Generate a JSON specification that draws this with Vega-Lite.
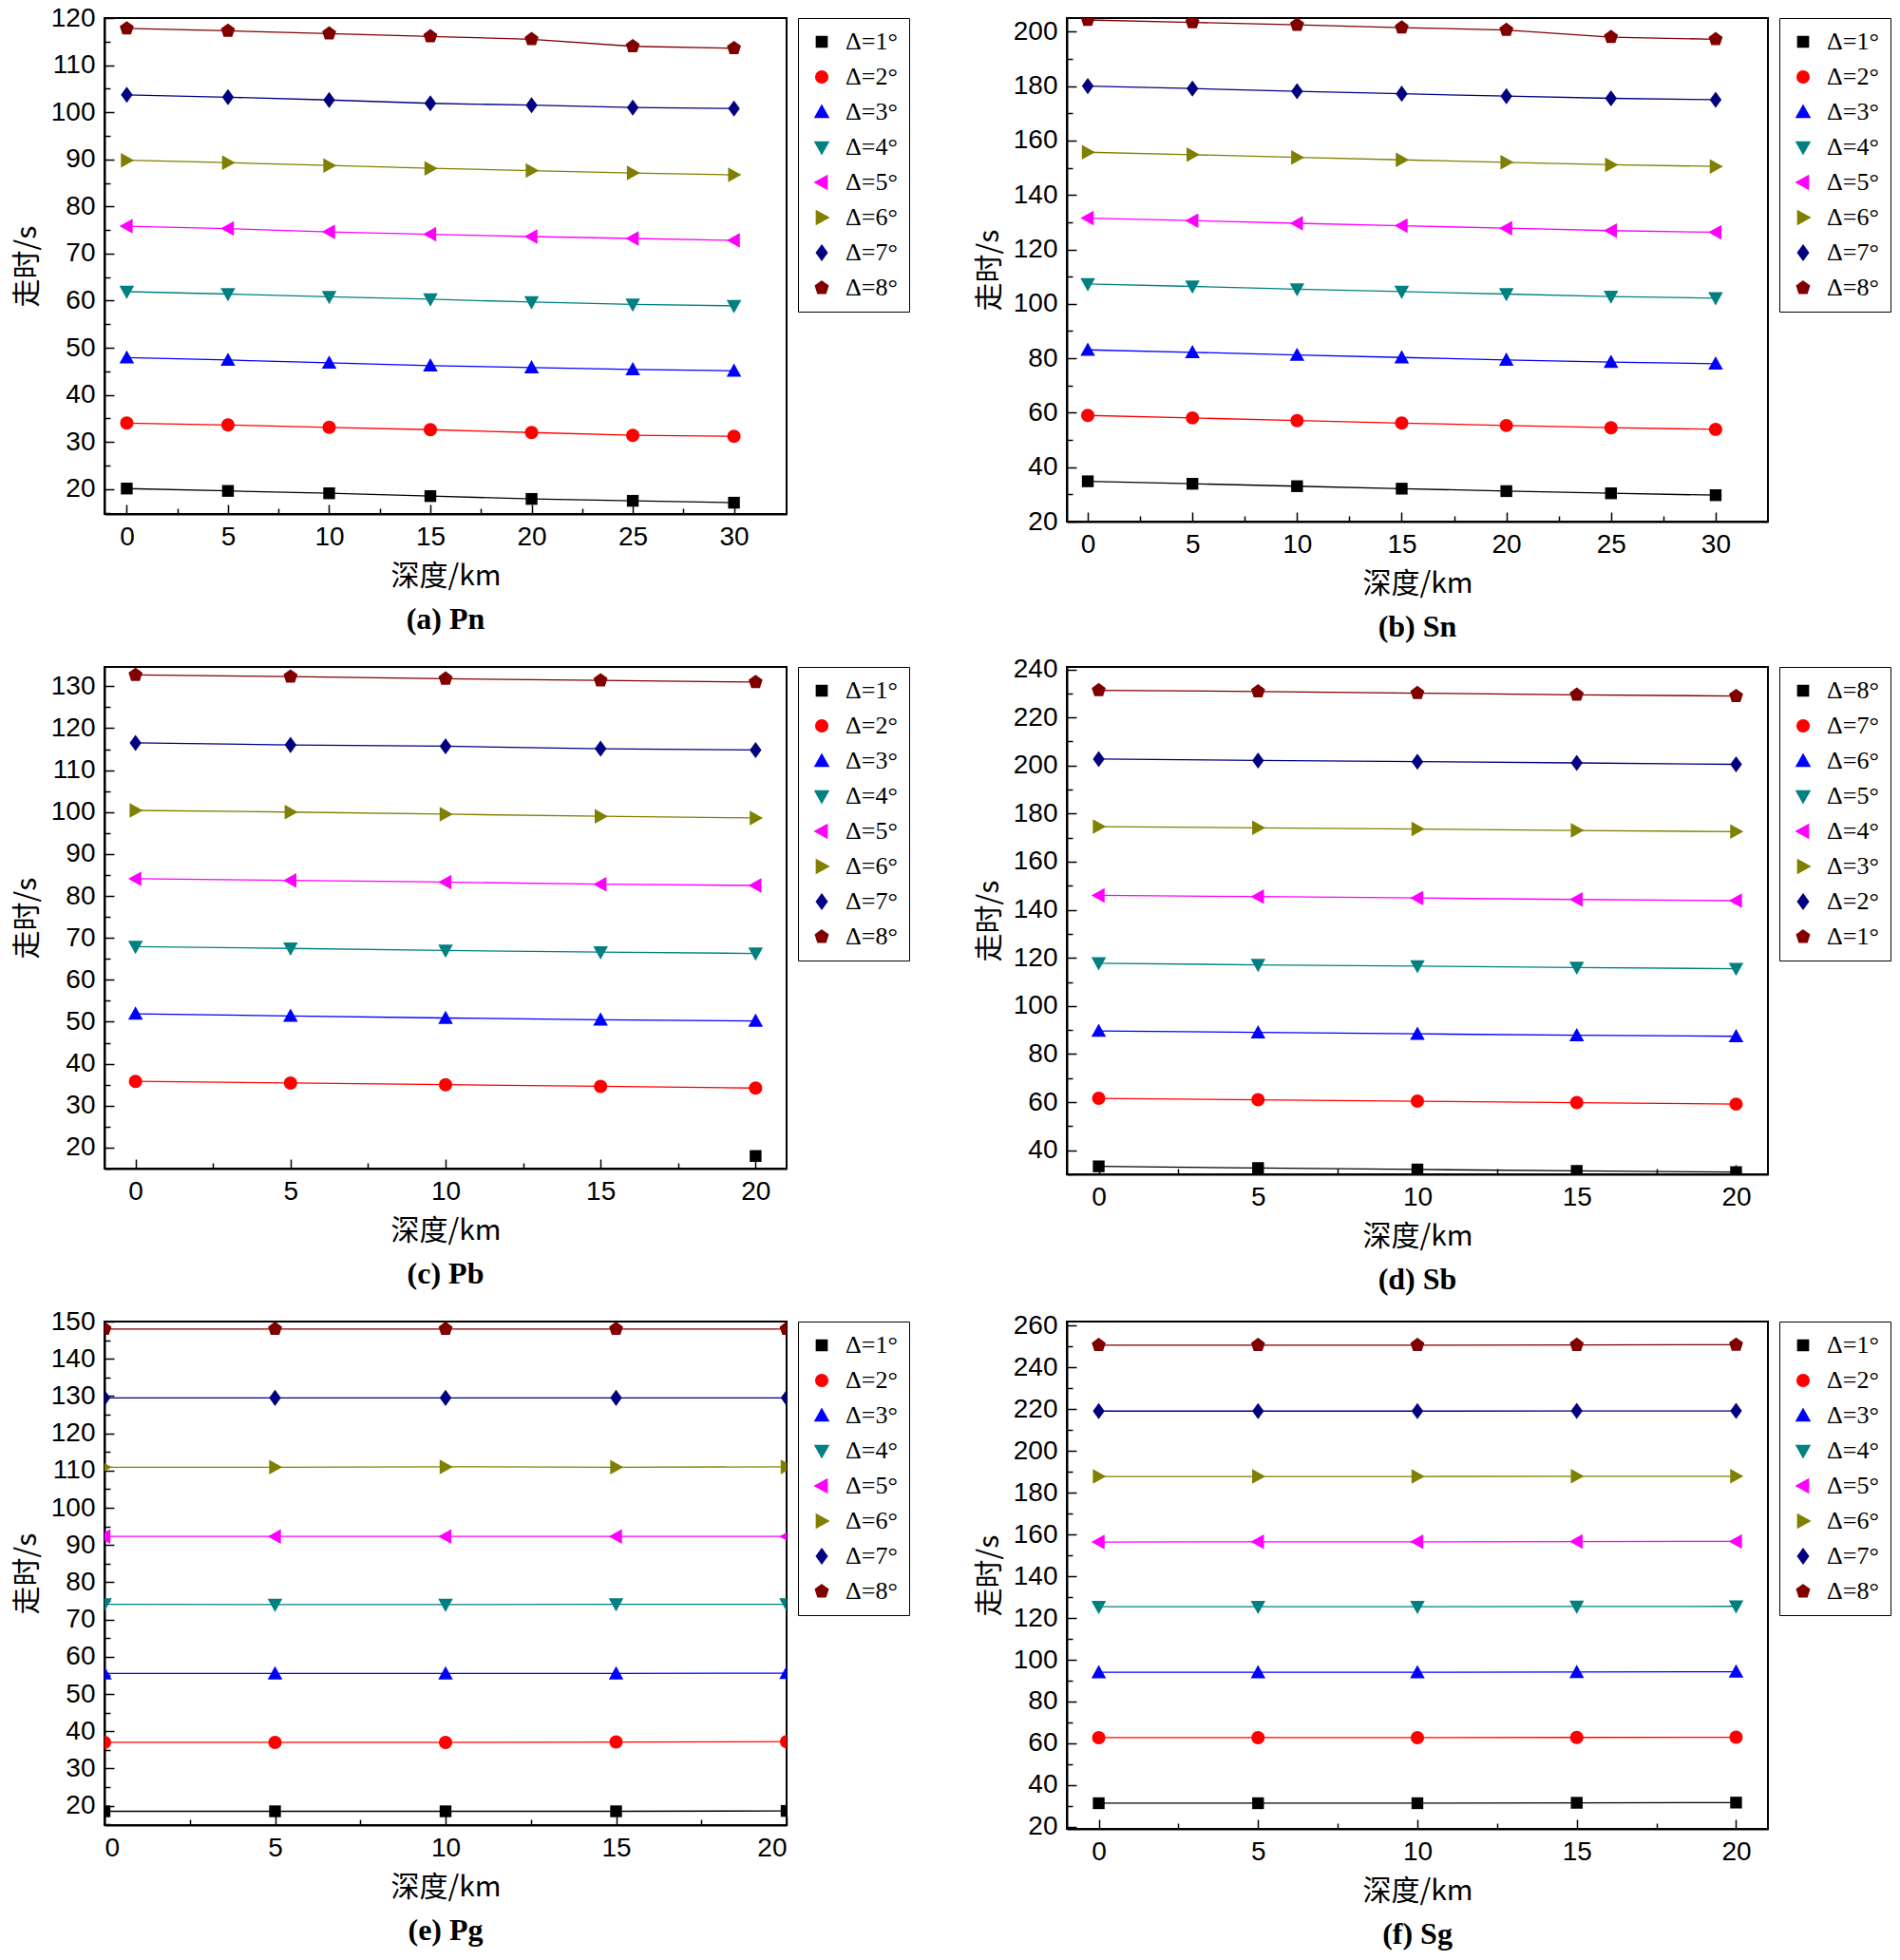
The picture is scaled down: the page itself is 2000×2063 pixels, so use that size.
{
  "$schema": "https://vega.github.io/schema/vega-lite/v6.json",
  "background": "white",
  "padding": {"left": 12, "top": 4, "right": 4, "bottom": 0},
  "columns": 2,
  "concat": [
    {
      "title": "(a) Pn",
      "width": 718, "height": 522,
      "data": {"values": [
        {"x": 0, "t": 20.1, "s": "Δ=1°"}, {"x": 5, "t": 19.6, "s": "Δ=1°"}, {"x": 10, "t": 19.1, "s": "Δ=1°"}, {"x": 15, "t": 18.5, "s": "Δ=1°"}, {"x": 20, "t": 17.9, "s": "Δ=1°"}, {"x": 25, "t": 17.5, "s": "Δ=1°"}, {"x": 30, "t": 17.1, "s": "Δ=1°"},
        {"x": 0, "t": 34.0, "s": "Δ=2°"}, {"x": 5, "t": 33.6, "s": "Δ=2°"}, {"x": 10, "t": 33.1, "s": "Δ=2°"}, {"x": 15, "t": 32.6, "s": "Δ=2°"}, {"x": 20, "t": 32.0, "s": "Δ=2°"}, {"x": 25, "t": 31.4, "s": "Δ=2°"}, {"x": 30, "t": 31.2, "s": "Δ=2°"},
        {"x": 0, "t": 47.9, "s": "Δ=3°"}, {"x": 5, "t": 47.4, "s": "Δ=3°"}, {"x": 10, "t": 46.8, "s": "Δ=3°"}, {"x": 15, "t": 46.2, "s": "Δ=3°"}, {"x": 20, "t": 45.8, "s": "Δ=3°"}, {"x": 25, "t": 45.4, "s": "Δ=3°"}, {"x": 30, "t": 45.1, "s": "Δ=3°"},
        {"x": 0, "t": 61.9, "s": "Δ=4°"}, {"x": 5, "t": 61.4, "s": "Δ=4°"}, {"x": 10, "t": 60.8, "s": "Δ=4°"}, {"x": 15, "t": 60.3, "s": "Δ=4°"}, {"x": 20, "t": 59.7, "s": "Δ=4°"}, {"x": 25, "t": 59.2, "s": "Δ=4°"}, {"x": 30, "t": 58.9, "s": "Δ=4°"},
        {"x": 0, "t": 75.8, "s": "Δ=5°"}, {"x": 5, "t": 75.3, "s": "Δ=5°"}, {"x": 10, "t": 74.6, "s": "Δ=5°"}, {"x": 15, "t": 74.1, "s": "Δ=5°"}, {"x": 20, "t": 73.6, "s": "Δ=5°"}, {"x": 25, "t": 73.2, "s": "Δ=5°"}, {"x": 30, "t": 72.8, "s": "Δ=5°"},
        {"x": 0, "t": 89.8, "s": "Δ=6°"}, {"x": 5, "t": 89.3, "s": "Δ=6°"}, {"x": 10, "t": 88.7, "s": "Δ=6°"}, {"x": 15, "t": 88.1, "s": "Δ=6°"}, {"x": 20, "t": 87.6, "s": "Δ=6°"}, {"x": 25, "t": 87.1, "s": "Δ=6°"}, {"x": 30, "t": 86.7, "s": "Δ=6°"},
        {"x": 0, "t": 103.7, "s": "Δ=7°"}, {"x": 5, "t": 103.2, "s": "Δ=7°"}, {"x": 10, "t": 102.6, "s": "Δ=7°"}, {"x": 15, "t": 101.9, "s": "Δ=7°"}, {"x": 20, "t": 101.5, "s": "Δ=7°"}, {"x": 25, "t": 101.0, "s": "Δ=7°"}, {"x": 30, "t": 100.8, "s": "Δ=7°"},
        {"x": 0, "t": 117.8, "s": "Δ=8°"}, {"x": 5, "t": 117.3, "s": "Δ=8°"}, {"x": 10, "t": 116.7, "s": "Δ=8°"}, {"x": 15, "t": 116.1, "s": "Δ=8°"}, {"x": 20, "t": 115.5, "s": "Δ=8°"}, {"x": 25, "t": 114.0, "s": "Δ=8°"}, {"x": 30, "t": 113.6, "s": "Δ=8°"}
      ]},
      "encoding": {
        "x": {"field": "x", "type": "quantitative", "title": "深度/km",
          "scale": {"domain": [-1.1, 32.6], "nice": false},
          "axis": {"values": [0, 2.5, 5, 7.5, 10, 12.5, 15, 17.5, 20, 22.5, 25, 27.5, 30],
            "labelExpr": "datum.value % 5 == 0 ? datum.label : ''",
            "tickSize": {"condition": {"test": "datum.value % 5 == 0", "value": -10}, "value": -6}}},
        "y": {"field": "t", "type": "quantitative", "title": "走时/s",
          "scale": {"domain": [14.7, 120], "nice": false, "zero": false},
          "axis": {"values": [15, 20, 25, 30, 35, 40, 45, 50, 55, 60, 65, 70, 75, 80, 85, 90, 95, 100, 105, 110, 115, 120],
            "labelExpr": "datum.value % 10 == 0 ? datum.label : ''",
            "tickSize": {"condition": {"test": "datum.value % 10 == 0", "value": -10}, "value": -6}}},
        "color": {"field": "s", "type": "nominal",
          "scale": {"domain": ["Δ=1°", "Δ=2°", "Δ=3°", "Δ=4°", "Δ=5°", "Δ=6°", "Δ=7°", "Δ=8°"], "range": ["#000000", "#FF0000", "#0000FF", "#008080", "#FF00FF", "#808000", "#000080", "#800000"]}}
      },
      "layer": [
        {"mark": {"type": "line", "strokeWidth": 1.3, "clip": true}},
        {"mark": {"type": "point", "filled": true, "opacity": 1, "size": 240, "clip": true},
          "encoding": {"shape": {"field": "s", "type": "nominal",
            "scale": {"domain": ["Δ=1°", "Δ=2°", "Δ=3°", "Δ=4°", "Δ=5°", "Δ=6°", "Δ=7°", "Δ=8°"], "range": ["M-0.8,-0.8H0.8V0.8H-0.8Z", "M-0.9,0A0.9,0.9,0,1,1,0.9,0A0.9,0.9,0,1,1,-0.9,0Z", "M0,-1L1,0.8L-1,0.8Z", "M0,1L1,-0.8L-1,-0.8Z", "M-1,0L0.8,-1L0.8,1Z", "M1,0L-0.8,-1L-0.8,1Z", "M0,-1.1L0.8,0L0,1.1L-0.8,0Z", "M0,-1L0.951,-0.309L0.588,0.809L-0.588,0.809L-0.951,-0.309Z"]}}}}
      ]
    },
    {
      "title": "(b) Sn",
      "width": 738, "height": 530,
      "data": {"values": [
        {"x": 0, "t": 34.8, "s": "Δ=1°"}, {"x": 5, "t": 33.9, "s": "Δ=1°"}, {"x": 10, "t": 33.0, "s": "Δ=1°"}, {"x": 15, "t": 32.1, "s": "Δ=1°"}, {"x": 20, "t": 31.2, "s": "Δ=1°"}, {"x": 25, "t": 30.4, "s": "Δ=1°"}, {"x": 30, "t": 29.7, "s": "Δ=1°"},
        {"x": 0, "t": 59.0, "s": "Δ=2°"}, {"x": 5, "t": 58.1, "s": "Δ=2°"}, {"x": 10, "t": 57.1, "s": "Δ=2°"}, {"x": 15, "t": 56.2, "s": "Δ=2°"}, {"x": 20, "t": 55.3, "s": "Δ=2°"}, {"x": 25, "t": 54.5, "s": "Δ=2°"}, {"x": 30, "t": 53.9, "s": "Δ=2°"},
        {"x": 0, "t": 83.1, "s": "Δ=3°"}, {"x": 5, "t": 82.2, "s": "Δ=3°"}, {"x": 10, "t": 81.2, "s": "Δ=3°"}, {"x": 15, "t": 80.3, "s": "Δ=3°"}, {"x": 20, "t": 79.4, "s": "Δ=3°"}, {"x": 25, "t": 78.6, "s": "Δ=3°"}, {"x": 30, "t": 78.0, "s": "Δ=3°"},
        {"x": 0, "t": 107.3, "s": "Δ=4°"}, {"x": 5, "t": 106.4, "s": "Δ=4°"}, {"x": 10, "t": 105.4, "s": "Δ=4°"}, {"x": 15, "t": 104.5, "s": "Δ=4°"}, {"x": 20, "t": 103.6, "s": "Δ=4°"}, {"x": 25, "t": 102.7, "s": "Δ=4°"}, {"x": 30, "t": 102.1, "s": "Δ=4°"},
        {"x": 0, "t": 131.5, "s": "Δ=5°"}, {"x": 5, "t": 130.6, "s": "Δ=5°"}, {"x": 10, "t": 129.6, "s": "Δ=5°"}, {"x": 15, "t": 128.7, "s": "Δ=5°"}, {"x": 20, "t": 127.8, "s": "Δ=5°"}, {"x": 25, "t": 126.9, "s": "Δ=5°"}, {"x": 30, "t": 126.3, "s": "Δ=5°"},
        {"x": 0, "t": 155.7, "s": "Δ=6°"}, {"x": 5, "t": 154.8, "s": "Δ=6°"}, {"x": 10, "t": 153.8, "s": "Δ=6°"}, {"x": 15, "t": 152.9, "s": "Δ=6°"}, {"x": 20, "t": 152.0, "s": "Δ=6°"}, {"x": 25, "t": 151.1, "s": "Δ=6°"}, {"x": 30, "t": 150.5, "s": "Δ=6°"},
        {"x": 0, "t": 180.0, "s": "Δ=7°"}, {"x": 5, "t": 179.1, "s": "Δ=7°"}, {"x": 10, "t": 178.1, "s": "Δ=7°"}, {"x": 15, "t": 177.2, "s": "Δ=7°"}, {"x": 20, "t": 176.3, "s": "Δ=7°"}, {"x": 25, "t": 175.5, "s": "Δ=7°"}, {"x": 30, "t": 175.0, "s": "Δ=7°"},
        {"x": 0, "t": 204.3, "s": "Δ=8°"}, {"x": 5, "t": 203.4, "s": "Δ=8°"}, {"x": 10, "t": 202.5, "s": "Δ=8°"}, {"x": 15, "t": 201.5, "s": "Δ=8°"}, {"x": 20, "t": 200.6, "s": "Δ=8°"}, {"x": 25, "t": 198.0, "s": "Δ=8°"}, {"x": 30, "t": 197.2, "s": "Δ=8°"}
      ]},
      "encoding": {
        "x": {"field": "x", "type": "quantitative", "title": "深度/km",
          "scale": {"domain": [-1, 32.5], "nice": false},
          "axis": {"values": [0, 2.5, 5, 7.5, 10, 12.5, 15, 17.5, 20, 22.5, 25, 27.5, 30],
            "labelExpr": "datum.value % 5 == 0 ? datum.label : ''",
            "tickSize": {"condition": {"test": "datum.value % 5 == 0", "value": -10}, "value": -6}}},
        "y": {"field": "t", "type": "quantitative", "title": "走时/s",
          "scale": {"domain": [20, 205], "nice": false, "zero": false},
          "axis": {"values": [20, 30, 40, 50, 60, 70, 80, 90, 100, 110, 120, 130, 140, 150, 160, 170, 180, 190, 200],
            "labelExpr": "datum.value % 20 == 0 ? datum.label : ''",
            "tickSize": {"condition": {"test": "datum.value % 20 == 0", "value": -10}, "value": -6}}},
        "color": {"field": "s", "type": "nominal",
          "scale": {"domain": ["Δ=1°", "Δ=2°", "Δ=3°", "Δ=4°", "Δ=5°", "Δ=6°", "Δ=7°", "Δ=8°"], "range": ["#000000", "#FF0000", "#0000FF", "#008080", "#FF00FF", "#808000", "#000080", "#800000"]}}
      },
      "layer": [
        {"mark": {"type": "line", "strokeWidth": 1.3, "clip": true}},
        {"mark": {"type": "point", "filled": true, "opacity": 1, "size": 240, "clip": true},
          "encoding": {"shape": {"field": "s", "type": "nominal",
            "scale": {"domain": ["Δ=1°", "Δ=2°", "Δ=3°", "Δ=4°", "Δ=5°", "Δ=6°", "Δ=7°", "Δ=8°"], "range": ["M-0.8,-0.8H0.8V0.8H-0.8Z", "M-0.9,0A0.9,0.9,0,1,1,0.9,0A0.9,0.9,0,1,1,-0.9,0Z", "M0,-1L1,0.8L-1,0.8Z", "M0,1L1,-0.8L-1,-0.8Z", "M-1,0L0.8,-1L0.8,1Z", "M1,0L-0.8,-1L-0.8,1Z", "M0,-1.1L0.8,0L0,1.1L-0.8,0Z", "M0,-1L0.951,-0.309L0.588,0.809L-0.588,0.809L-0.951,-0.309Z"]}}}}
      ]
    },
    {
      "title": "(c) Pb",
      "width": 718, "height": 528,
      "data": {"values": [
        {"x": 20, "t": 18.0, "s": "Δ=1°"},
        {"x": 0, "t": 35.8, "s": "Δ=2°"}, {"x": 5, "t": 35.4, "s": "Δ=2°"}, {"x": 10, "t": 35.0, "s": "Δ=2°"}, {"x": 15, "t": 34.6, "s": "Δ=2°"}, {"x": 20, "t": 34.2, "s": "Δ=2°"},
        {"x": 0, "t": 51.9, "s": "Δ=3°"}, {"x": 5, "t": 51.4, "s": "Δ=3°"}, {"x": 10, "t": 50.9, "s": "Δ=3°"}, {"x": 15, "t": 50.5, "s": "Δ=3°"}, {"x": 20, "t": 50.2, "s": "Δ=3°"},
        {"x": 0, "t": 67.9, "s": "Δ=4°"}, {"x": 5, "t": 67.5, "s": "Δ=4°"}, {"x": 10, "t": 67.0, "s": "Δ=4°"}, {"x": 15, "t": 66.6, "s": "Δ=4°"}, {"x": 20, "t": 66.3, "s": "Δ=4°"},
        {"x": 0, "t": 84.1, "s": "Δ=5°"}, {"x": 5, "t": 83.7, "s": "Δ=5°"}, {"x": 10, "t": 83.3, "s": "Δ=5°"}, {"x": 15, "t": 82.8, "s": "Δ=5°"}, {"x": 20, "t": 82.5, "s": "Δ=5°"},
        {"x": 0, "t": 100.4, "s": "Δ=6°"}, {"x": 5, "t": 100.0, "s": "Δ=6°"}, {"x": 10, "t": 99.5, "s": "Δ=6°"}, {"x": 15, "t": 99.0, "s": "Δ=6°"}, {"x": 20, "t": 98.6, "s": "Δ=6°"},
        {"x": 0, "t": 116.5, "s": "Δ=7°"}, {"x": 5, "t": 116.0, "s": "Δ=7°"}, {"x": 10, "t": 115.7, "s": "Δ=7°"}, {"x": 15, "t": 115.1, "s": "Δ=7°"}, {"x": 20, "t": 114.8, "s": "Δ=7°"},
        {"x": 0, "t": 132.7, "s": "Δ=8°"}, {"x": 5, "t": 132.3, "s": "Δ=8°"}, {"x": 10, "t": 131.8, "s": "Δ=8°"}, {"x": 15, "t": 131.4, "s": "Δ=8°"}, {"x": 20, "t": 131.0, "s": "Δ=8°"}
      ]},
      "encoding": {
        "x": {"field": "x", "type": "quantitative", "title": "深度/km",
          "scale": {"domain": [-1, 21], "nice": false},
          "axis": {"values": [0, 2.5, 5, 7.5, 10, 12.5, 15, 17.5, 20],
            "labelExpr": "datum.value % 5 == 0 ? datum.label : ''",
            "tickSize": {"condition": {"test": "datum.value % 5 == 0", "value": -10}, "value": -6}}},
        "y": {"field": "t", "type": "quantitative", "title": "走时/s",
          "scale": {"domain": [15, 134.6], "nice": false, "zero": false},
          "axis": {"values": [15, 20, 25, 30, 35, 40, 45, 50, 55, 60, 65, 70, 75, 80, 85, 90, 95, 100, 105, 110, 115, 120, 125, 130],
            "labelExpr": "datum.value % 10 == 0 ? datum.label : ''",
            "tickSize": {"condition": {"test": "datum.value % 10 == 0", "value": -10}, "value": -6}}},
        "color": {"field": "s", "type": "nominal",
          "scale": {"domain": ["Δ=1°", "Δ=2°", "Δ=3°", "Δ=4°", "Δ=5°", "Δ=6°", "Δ=7°", "Δ=8°"], "range": ["#000000", "#FF0000", "#0000FF", "#008080", "#FF00FF", "#808000", "#000080", "#800000"]}}
      },
      "layer": [
        {"mark": {"type": "line", "strokeWidth": 1.3, "clip": true}},
        {"mark": {"type": "point", "filled": true, "opacity": 1, "size": 240, "clip": true},
          "encoding": {"shape": {"field": "s", "type": "nominal",
            "scale": {"domain": ["Δ=1°", "Δ=2°", "Δ=3°", "Δ=4°", "Δ=5°", "Δ=6°", "Δ=7°", "Δ=8°"], "range": ["M-0.8,-0.8H0.8V0.8H-0.8Z", "M-0.9,0A0.9,0.9,0,1,1,0.9,0A0.9,0.9,0,1,1,-0.9,0Z", "M0,-1L1,0.8L-1,0.8Z", "M0,1L1,-0.8L-1,-0.8Z", "M-1,0L0.8,-1L0.8,1Z", "M1,0L-0.8,-1L-0.8,1Z", "M0,-1.1L0.8,0L0,1.1L-0.8,0Z", "M0,-1L0.951,-0.309L0.588,0.809L-0.588,0.809L-0.951,-0.309Z"]}}}}
      ]
    },
    {
      "title": "(d) Sb",
      "width": 738, "height": 534,
      "data": {"values": [
        {"x": 0, "t": 33.3, "s": "Δ=8°"}, {"x": 5, "t": 32.6, "s": "Δ=8°"}, {"x": 10, "t": 32.0, "s": "Δ=8°"}, {"x": 15, "t": 31.4, "s": "Δ=8°"}, {"x": 20, "t": 30.9, "s": "Δ=8°"},
        {"x": 0, "t": 61.6, "s": "Δ=7°"}, {"x": 5, "t": 61.0, "s": "Δ=7°"}, {"x": 10, "t": 60.4, "s": "Δ=7°"}, {"x": 15, "t": 59.8, "s": "Δ=7°"}, {"x": 20, "t": 59.2, "s": "Δ=7°"},
        {"x": 0, "t": 89.6, "s": "Δ=6°"}, {"x": 5, "t": 89.0, "s": "Δ=6°"}, {"x": 10, "t": 88.4, "s": "Δ=6°"}, {"x": 15, "t": 87.8, "s": "Δ=6°"}, {"x": 20, "t": 87.4, "s": "Δ=6°"},
        {"x": 0, "t": 117.8, "s": "Δ=5°"}, {"x": 5, "t": 117.1, "s": "Δ=5°"}, {"x": 10, "t": 116.6, "s": "Δ=5°"}, {"x": 15, "t": 116.0, "s": "Δ=5°"}, {"x": 20, "t": 115.5, "s": "Δ=5°"},
        {"x": 0, "t": 146.0, "s": "Δ=4°"}, {"x": 5, "t": 145.5, "s": "Δ=4°"}, {"x": 10, "t": 144.9, "s": "Δ=4°"}, {"x": 15, "t": 144.3, "s": "Δ=4°"}, {"x": 20, "t": 143.8, "s": "Δ=4°"},
        {"x": 0, "t": 174.6, "s": "Δ=3°"}, {"x": 5, "t": 174.1, "s": "Δ=3°"}, {"x": 10, "t": 173.6, "s": "Δ=3°"}, {"x": 15, "t": 173.0, "s": "Δ=3°"}, {"x": 20, "t": 172.5, "s": "Δ=3°"},
        {"x": 0, "t": 202.7, "s": "Δ=2°"}, {"x": 5, "t": 202.1, "s": "Δ=2°"}, {"x": 10, "t": 201.6, "s": "Δ=2°"}, {"x": 15, "t": 201.1, "s": "Δ=2°"}, {"x": 20, "t": 200.5, "s": "Δ=2°"},
        {"x": 0, "t": 231.3, "s": "Δ=1°"}, {"x": 5, "t": 230.8, "s": "Δ=1°"}, {"x": 10, "t": 230.1, "s": "Δ=1°"}, {"x": 15, "t": 229.4, "s": "Δ=1°"}, {"x": 20, "t": 228.9, "s": "Δ=1°"}
      ]},
      "encoding": {
        "x": {"field": "x", "type": "quantitative", "title": "深度/km",
          "scale": {"domain": [-1, 21], "nice": false},
          "axis": {"values": [0, 2.5, 5, 7.5, 10, 12.5, 15, 17.5, 20],
            "labelExpr": "datum.value % 5 == 0 ? datum.label : ''",
            "tickSize": {"condition": {"test": "datum.value % 5 == 0", "value": -10}, "value": -6}}},
        "y": {"field": "t", "type": "quantitative", "title": "走时/s",
          "scale": {"domain": [30, 241], "nice": false, "zero": false},
          "axis": {"values": [30, 40, 50, 60, 70, 80, 90, 100, 110, 120, 130, 140, 150, 160, 170, 180, 190, 200, 210, 220, 230, 240],
            "labelExpr": "datum.value % 20 == 0 ? datum.label : ''",
            "tickSize": {"condition": {"test": "datum.value % 20 == 0", "value": -10}, "value": -6}}},
        "color": {"field": "s", "type": "nominal",
          "scale": {"domain": ["Δ=8°", "Δ=7°", "Δ=6°", "Δ=5°", "Δ=4°", "Δ=3°", "Δ=2°", "Δ=1°"], "range": ["#000000", "#FF0000", "#0000FF", "#008080", "#FF00FF", "#808000", "#000080", "#800000"]}}
      },
      "layer": [
        {"mark": {"type": "line", "strokeWidth": 1.3, "clip": true}},
        {"mark": {"type": "point", "filled": true, "opacity": 1, "size": 240, "clip": true},
          "encoding": {"shape": {"field": "s", "type": "nominal",
            "scale": {"domain": ["Δ=8°", "Δ=7°", "Δ=6°", "Δ=5°", "Δ=4°", "Δ=3°", "Δ=2°", "Δ=1°"], "range": ["M-0.8,-0.8H0.8V0.8H-0.8Z", "M-0.9,0A0.9,0.9,0,1,1,0.9,0A0.9,0.9,0,1,1,-0.9,0Z", "M0,-1L1,0.8L-1,0.8Z", "M0,1L1,-0.8L-1,-0.8Z", "M-1,0L0.8,-1L0.8,1Z", "M1,0L-0.8,-1L-0.8,1Z", "M0,-1.1L0.8,0L0,1.1L-0.8,0Z", "M0,-1L0.951,-0.309L0.588,0.809L-0.588,0.809L-0.951,-0.309Z"]}}}}
      ]
    },
    {
      "title": "(e) Pg",
      "width": 718, "height": 530,
      "data": {"values": [
        {"x": 0, "t": 18.5, "s": "Δ=1°"}, {"x": 5, "t": 18.5, "s": "Δ=1°"}, {"x": 10, "t": 18.5, "s": "Δ=1°"}, {"x": 15, "t": 18.5, "s": "Δ=1°"}, {"x": 20, "t": 18.6, "s": "Δ=1°"},
        {"x": 0, "t": 37.0, "s": "Δ=2°"}, {"x": 5, "t": 37.0, "s": "Δ=2°"}, {"x": 10, "t": 37.0, "s": "Δ=2°"}, {"x": 15, "t": 37.1, "s": "Δ=2°"}, {"x": 20, "t": 37.2, "s": "Δ=2°"},
        {"x": 0, "t": 55.5, "s": "Δ=3°"}, {"x": 5, "t": 55.5, "s": "Δ=3°"}, {"x": 10, "t": 55.5, "s": "Δ=3°"}, {"x": 15, "t": 55.5, "s": "Δ=3°"}, {"x": 20, "t": 55.6, "s": "Δ=3°"},
        {"x": 0, "t": 74.1, "s": "Δ=4°"}, {"x": 5, "t": 74.0, "s": "Δ=4°"}, {"x": 10, "t": 74.0, "s": "Δ=4°"}, {"x": 15, "t": 74.1, "s": "Δ=4°"}, {"x": 20, "t": 74.1, "s": "Δ=4°"},
        {"x": 0, "t": 92.3, "s": "Δ=5°"}, {"x": 5, "t": 92.3, "s": "Δ=5°"}, {"x": 10, "t": 92.3, "s": "Δ=5°"}, {"x": 15, "t": 92.3, "s": "Δ=5°"}, {"x": 20, "t": 92.3, "s": "Δ=5°"},
        {"x": 0, "t": 110.9, "s": "Δ=6°"}, {"x": 5, "t": 110.9, "s": "Δ=6°"}, {"x": 10, "t": 111.0, "s": "Δ=6°"}, {"x": 15, "t": 110.9, "s": "Δ=6°"}, {"x": 20, "t": 111.0, "s": "Δ=6°"},
        {"x": 0, "t": 129.5, "s": "Δ=7°"}, {"x": 5, "t": 129.5, "s": "Δ=7°"}, {"x": 10, "t": 129.5, "s": "Δ=7°"}, {"x": 15, "t": 129.5, "s": "Δ=7°"}, {"x": 20, "t": 129.5, "s": "Δ=7°"},
        {"x": 0, "t": 148.0, "s": "Δ=8°"}, {"x": 5, "t": 148.0, "s": "Δ=8°"}, {"x": 10, "t": 148.0, "s": "Δ=8°"}, {"x": 15, "t": 148.0, "s": "Δ=8°"}, {"x": 20, "t": 148.0, "s": "Δ=8°"}
      ]},
      "encoding": {
        "x": {"field": "x", "type": "quantitative", "title": "深度/km",
          "scale": {"domain": [0, 20], "nice": false},
          "axis": {"values": [0, 2.5, 5, 7.5, 10, 12.5, 15, 17.5, 20],
            "labelExpr": "datum.value % 5 == 0 ? datum.label : ''",
            "tickSize": {"condition": {"test": "datum.value % 5 == 0", "value": -10}, "value": -6}}},
        "y": {"field": "t", "type": "quantitative", "title": "走时/s",
          "scale": {"domain": [14.8, 150], "nice": false, "zero": false},
          "axis": {"values": [15, 20, 25, 30, 35, 40, 45, 50, 55, 60, 65, 70, 75, 80, 85, 90, 95, 100, 105, 110, 115, 120, 125, 130, 135, 140, 145, 150],
            "labelExpr": "datum.value % 10 == 0 ? datum.label : ''",
            "tickSize": {"condition": {"test": "datum.value % 10 == 0", "value": -10}, "value": -6}}},
        "color": {"field": "s", "type": "nominal",
          "scale": {"domain": ["Δ=1°", "Δ=2°", "Δ=3°", "Δ=4°", "Δ=5°", "Δ=6°", "Δ=7°", "Δ=8°"], "range": ["#000000", "#FF0000", "#0000FF", "#008080", "#FF00FF", "#808000", "#000080", "#800000"]}}
      },
      "layer": [
        {"mark": {"type": "line", "strokeWidth": 1.3, "clip": true}},
        {"mark": {"type": "point", "filled": true, "opacity": 1, "size": 240, "clip": true},
          "encoding": {"shape": {"field": "s", "type": "nominal",
            "scale": {"domain": ["Δ=1°", "Δ=2°", "Δ=3°", "Δ=4°", "Δ=5°", "Δ=6°", "Δ=7°", "Δ=8°"], "range": ["M-0.8,-0.8H0.8V0.8H-0.8Z", "M-0.9,0A0.9,0.9,0,1,1,0.9,0A0.9,0.9,0,1,1,-0.9,0Z", "M0,-1L1,0.8L-1,0.8Z", "M0,1L1,-0.8L-1,-0.8Z", "M-1,0L0.8,-1L0.8,1Z", "M1,0L-0.8,-1L-0.8,1Z", "M0,-1.1L0.8,0L0,1.1L-0.8,0Z", "M0,-1L0.951,-0.309L0.588,0.809L-0.588,0.809L-0.951,-0.309Z"]}}}}
      ]
    },
    {
      "title": "(f) Sg",
      "width": 738, "height": 534,
      "data": {"values": [
        {"x": 0, "t": 31.3, "s": "Δ=1°"}, {"x": 5, "t": 31.3, "s": "Δ=1°"}, {"x": 10, "t": 31.3, "s": "Δ=1°"}, {"x": 15, "t": 31.5, "s": "Δ=1°"}, {"x": 20, "t": 31.6, "s": "Δ=1°"},
        {"x": 0, "t": 62.7, "s": "Δ=2°"}, {"x": 5, "t": 62.7, "s": "Δ=2°"}, {"x": 10, "t": 62.7, "s": "Δ=2°"}, {"x": 15, "t": 62.8, "s": "Δ=2°"}, {"x": 20, "t": 62.9, "s": "Δ=2°"},
        {"x": 0, "t": 94.0, "s": "Δ=3°"}, {"x": 5, "t": 94.0, "s": "Δ=3°"}, {"x": 10, "t": 94.0, "s": "Δ=3°"}, {"x": 15, "t": 94.1, "s": "Δ=3°"}, {"x": 20, "t": 94.3, "s": "Δ=3°"},
        {"x": 0, "t": 125.4, "s": "Δ=4°"}, {"x": 5, "t": 125.4, "s": "Δ=4°"}, {"x": 10, "t": 125.4, "s": "Δ=4°"}, {"x": 15, "t": 125.5, "s": "Δ=4°"}, {"x": 20, "t": 125.6, "s": "Δ=4°"},
        {"x": 0, "t": 156.4, "s": "Δ=5°"}, {"x": 5, "t": 156.5, "s": "Δ=5°"}, {"x": 10, "t": 156.5, "s": "Δ=5°"}, {"x": 15, "t": 156.6, "s": "Δ=5°"}, {"x": 20, "t": 156.7, "s": "Δ=5°"},
        {"x": 0, "t": 187.8, "s": "Δ=6°"}, {"x": 5, "t": 187.8, "s": "Δ=6°"}, {"x": 10, "t": 187.8, "s": "Δ=6°"}, {"x": 15, "t": 187.9, "s": "Δ=6°"}, {"x": 20, "t": 187.9, "s": "Δ=6°"},
        {"x": 0, "t": 219.1, "s": "Δ=7°"}, {"x": 5, "t": 219.1, "s": "Δ=7°"}, {"x": 10, "t": 219.1, "s": "Δ=7°"}, {"x": 15, "t": 219.2, "s": "Δ=7°"}, {"x": 20, "t": 219.2, "s": "Δ=7°"},
        {"x": 0, "t": 250.7, "s": "Δ=8°"}, {"x": 5, "t": 250.7, "s": "Δ=8°"}, {"x": 10, "t": 250.7, "s": "Δ=8°"}, {"x": 15, "t": 250.8, "s": "Δ=8°"}, {"x": 20, "t": 250.9, "s": "Δ=8°"}
      ]},
      "encoding": {
        "x": {"field": "x", "type": "quantitative", "title": "深度/km",
          "scale": {"domain": [-1, 21], "nice": false},
          "axis": {"values": [0, 2.5, 5, 7.5, 10, 12.5, 15, 17.5, 20],
            "labelExpr": "datum.value % 5 == 0 ? datum.label : ''",
            "tickSize": {"condition": {"test": "datum.value % 5 == 0", "value": -10}, "value": -6}}},
        "y": {"field": "t", "type": "quantitative", "title": "走时/s",
          "scale": {"domain": [19, 262], "nice": false, "zero": false},
          "axis": {"values": [20, 30, 40, 50, 60, 70, 80, 90, 100, 110, 120, 130, 140, 150, 160, 170, 180, 190, 200, 210, 220, 230, 240, 250, 260],
            "labelExpr": "datum.value % 20 == 0 ? datum.label : ''",
            "tickSize": {"condition": {"test": "datum.value % 20 == 0", "value": -10}, "value": -6}}},
        "color": {"field": "s", "type": "nominal",
          "scale": {"domain": ["Δ=1°", "Δ=2°", "Δ=3°", "Δ=4°", "Δ=5°", "Δ=6°", "Δ=7°", "Δ=8°"], "range": ["#000000", "#FF0000", "#0000FF", "#008080", "#FF00FF", "#808000", "#000080", "#800000"]}}
      },
      "layer": [
        {"mark": {"type": "line", "strokeWidth": 1.3, "clip": true}},
        {"mark": {"type": "point", "filled": true, "opacity": 1, "size": 240, "clip": true},
          "encoding": {"shape": {"field": "s", "type": "nominal",
            "scale": {"domain": ["Δ=1°", "Δ=2°", "Δ=3°", "Δ=4°", "Δ=5°", "Δ=6°", "Δ=7°", "Δ=8°"], "range": ["M-0.8,-0.8H0.8V0.8H-0.8Z", "M-0.9,0A0.9,0.9,0,1,1,0.9,0A0.9,0.9,0,1,1,-0.9,0Z", "M0,-1L1,0.8L-1,0.8Z", "M0,1L1,-0.8L-1,-0.8Z", "M-1,0L0.8,-1L0.8,1Z", "M1,0L-0.8,-1L-0.8,1Z", "M0,-1.1L0.8,0L0,1.1L-0.8,0Z", "M0,-1L0.951,-0.309L0.588,0.809L-0.588,0.809L-0.951,-0.309Z"]}}}}
      ]
    }
  ],
  "resolve": {"scale": {"color": "independent", "shape": "independent"}, "legend": {"color": "independent", "shape": "independent"}},
  "spacing": {"row": 12, "column": 66},
  "config": {
    "view": {"stroke": "black", "strokeWidth": 2},
    "axis": {
      "grid": false,
      "labelFont": "Liberation Sans", "labelFontSize": 28, "labelColor": "black", "labelPadding": 20,
      "titleFont": "Noto Sans CJK SC", "titleFontSize": 30, "titleFontWeight": "normal", "titleColor": "black",
      "domainColor": "black", "domainWidth": 2, "tickColor": "black", "tickWidth": 1.5
    },
    "axisX": {"titlePadding": 12},
    "axisY": {"titlePadding": 10},
    "legend": {
      "orient": "right", "offset": 12, "title": null,
      "strokeColor": "black", "padding": 12,
      "labelFont": "Liberation Serif", "labelFontSize": 26, "labelColor": "black",
      "symbolSize": 196, "labelOffset": 12, "rowPadding": 11
    },
    "title": {"orient": "bottom", "font": "Liberation Serif", "fontSize": 32, "fontWeight": "bold", "color": "black", "offset": 16, "anchor": "middle"}
  }
}
